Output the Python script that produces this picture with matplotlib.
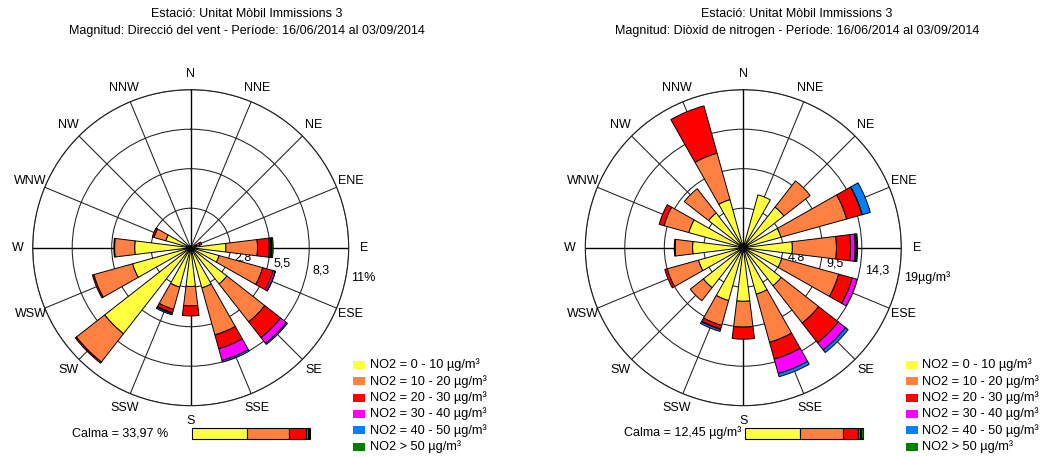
import numpy as np
import matplotlib
matplotlib.use('Agg')
import matplotlib.pyplot as plt
import matplotlib.transforms as mtransforms
from matplotlib.patches import Rectangle

plt.rcParams['font.family'] = ['Liberation Sans', 'DejaVu Sans']
plt.rcParams['font.size'] = 9

W, H = 1042, 457

direccions = ['N', 'NNE', 'NE', 'ENE', 'E', 'ESE', 'SE', 'SSE',
              'S', 'SSW', 'SW', 'WSW', 'W', 'WNW', 'NW', 'NNW']
colors_classe = ['#FFFF40', '#FF8040', '#FF0000', '#FF00FF', '#0080FF', '#008000']
etiquetes_classe = ['NO2 = 0 - 10 µg/m³', 'NO2 = 10 - 20 µg/m³', 'NO2 = 20 - 30 µg/m³',
                    'NO2 = 30 - 40 µg/m³', 'NO2 = 40 - 50 µg/m³', 'NO2 > 50 µg/m³']

# Rosa 1: freqüència de direcció del vent (%), per classe de NO2
vent_0_10  = [0.15, 0.15, 0.15, 0.40, 2.45, 2.05, 3.20, 2.90, 2.70, 2.85, 7.60, 4.20, 3.90, 1.80, 0.15, 0.15]
vent_10_20 = [0, 0, 0, 0.25, 2.20, 3.15, 3.35, 3.40, 1.35, 1.60, 2.50, 2.80, 1.40, 0.85, 0, 0]
vent_20_30 = [0, 0, 0, 0.15, 0.82, 0.75, 1.40, 1.00, 0.70, 0.25, 0.10, 0.10, 0.05, 0.12, 0, 0]
vent_30_40 = [0, 0, 0, 0, 0.10, 0.15, 0.50, 0.85, 0, 0.05, 0, 0, 0, 0, 0, 0]
vent_40_50 = [0, 0, 0, 0, 0.07, 0.03, 0.10, 0.12, 0, 0.10, 0, 0, 0, 0, 0, 0]
vent_50    = [0, 0, 0, 0, 0.10, 0, 0, 0, 0, 0, 0, 0, 0, 0, 0, 0]
calma_vent = [47.0, 35.5, 13.9, 1.5, 1.2, 0.9]

# Rosa 2: diòxid de nitrogen (µg/m³), per classe de NO2
no2_0_10  = [0.5, 6.6, 6.2, 4.7, 5.9, 4.8, 5.8, 5.8, 6.45, 6.6, 6.1, 5.6, 6.1, 6.8, 5.3, 6.0]
no2_10_20 = [0, 0, 4.0, 8.2, 5.3, 7.1, 5.7, 6.0, 3.10, 3.1, 2.0, 3.9, 2.1, 3.1, 3.7, 5.8]
no2_20_30 = [0, 0, 0, 1.9, 1.7, 1.7, 3.0, 2.1, 1.45, 0.45, 0, 0.3, 0.1, 0.6, 0, 5.9]
no2_30_40 = [0, 0, 0, 0.05, 0.55, 0.6, 1.1, 1.8, 0, 0.05, 0, 0, 0, 0, 0, 0]
no2_40_50 = [0, 0, 0, 1.0, 0.15, 0, 0.4, 0.4, 0, 0.25, 0, 0, 0, 0, 0, 0]
no2_50    = [0, 0, 0, 0, 0.15, 0, 0, 0, 0, 0, 0, 0, 0, 0, 0, 0]
calma_no2 = [46.7, 36.3, 12.7, 1.8, 1.5, 1.0]


def fx(px):
    return px / W


def fy(py):
    return 1 - py / H


def dibuixa_rosa(fig, cx, cy, radi, rmax, classes, etiq_anells, titol, titol_x,
                 calma_text, calma_vals):
    ax = fig.add_axes([fx(cx - radi), fy(cy + radi), 2 * radi / W, 2 * radi / H],
                      projection='polar')
    ax.set_theta_zero_location('N')
    ax.set_theta_direction(-1)
    ax.set_ylim(0, rmax)
    ax.set_axisbelow(True)

    theta = np.deg2rad(np.arange(16) * 22.5)
    anells = rmax * np.array([0.25, 0.5, 0.75, 1.0])
    ax.set_xticks(theta)
    ax.set_xticklabels([])
    ax.set_yticks(anells)
    ax.set_yticklabels([])
    ax.grid(True, color='#202020', linewidth=0.75)
    for i, gl in enumerate(ax.xaxis.get_gridlines()):
        if i % 4 == 0:
            gl.set_color('black')
            gl.set_linewidth(1.0)
    ax.spines['polar'].set_color('#202020')
    ax.spines['polar'].set_linewidth(0.8)

    # barres apilades per classe
    base = np.zeros(16)
    for vals, col in zip(classes, colors_classe):
        vals = np.asarray(vals, dtype=float)
        m = vals > 0
        ax.bar(theta[m], vals[m], width=np.deg2rad(14), bottom=base[m], color=col,
               edgecolor='black', linewidth=0.7, zorder=3)
        base += vals

    # etiquetes dels anells, una mica desplaçades cap a fora
    trans_anell = mtransforms.offset_copy(ax.transData, fig=fig, x=5, y=-2.5, units='dots')
    for r, txt in zip(anells, etiq_anells):
        ax.text(np.deg2rad(100), r, txt, ha='left', va='center', fontsize=9,
                zorder=2, transform=trans_anell)

    # etiquetes de direcció
    for t, d in zip(theta, direccions):
        ax.text(t, rmax * 1.097, d, ha='center', va='center', fontsize=9)

    # títol
    fig.text(fx(titol_x), fy(14), titol[0], ha='center', va='center', fontsize=9)
    fig.text(fx(titol_x), fy(31), titol[1], ha='center', va='center', fontsize=9)

    # llegenda
    for i, (col, lab) in enumerate(zip(colors_classe, etiquetes_classe)):
        yc = 365 + 16.3 * i
        fig.add_artist(Rectangle((fx(cx + 162.6), fy(yc + 4)), 12 / W, 8 / H,
                                 transform=fig.transFigure, facecolor=col, edgecolor='none'))
        fig.text(fx(cx + 179), fy(yc), lab, ha='left', va='center', fontsize=9.2)

    # calmes
    fig.text(fx(cx - 119), fy(433), calma_text, ha='left', va='center', fontsize=9)
    axc = fig.add_axes([fx(cx + 1.3), fy(439), 118 / W, 10.7 / H])
    esq = 0
    for v, col in zip(calma_vals, colors_classe):
        axc.barh(0, v, left=esq, height=1.0, color=col, edgecolor='black',
                 linewidth=0.8, clip_on=False)
        esq += v
    axc.set_xlim(0, 100)
    axc.set_ylim(-0.5, 0.5)
    axc.axis('off')
    return ax


fig = plt.figure(figsize=(W / 100, H / 100), dpi=100)

dibuixa_rosa(fig, 190.7, 247.7, 158, 11,
             [vent_0_10, vent_10_20, vent_20_30, vent_30_40, vent_40_50, vent_50],
             ['2,8', '5,5', '8,3', '11%'],
             ['Estació: Unitat Mòbil Immissions 3',
              'Magnitud: Direcció del vent - Període: 16/06/2014 al 03/09/2014'], 247,
             'Calma = 33,97 %', calma_vent)

dibuixa_rosa(fig, 743.3, 247.7, 158, 19,
             [no2_0_10, no2_10_20, no2_20_30, no2_30_40, no2_40_50, no2_50],
             ['4,8', '9,5', '14,3', '19µg/m³'],
             ['Estació: Unitat Mòbil Immissions 3',
              'Magnitud: Diòxid de nitrogen - Període: 16/06/2014 al 03/09/2014'], 797,
             'Calma = 12,45 µg/m³', calma_no2)

fig.savefig('out.png', dpi=100)
